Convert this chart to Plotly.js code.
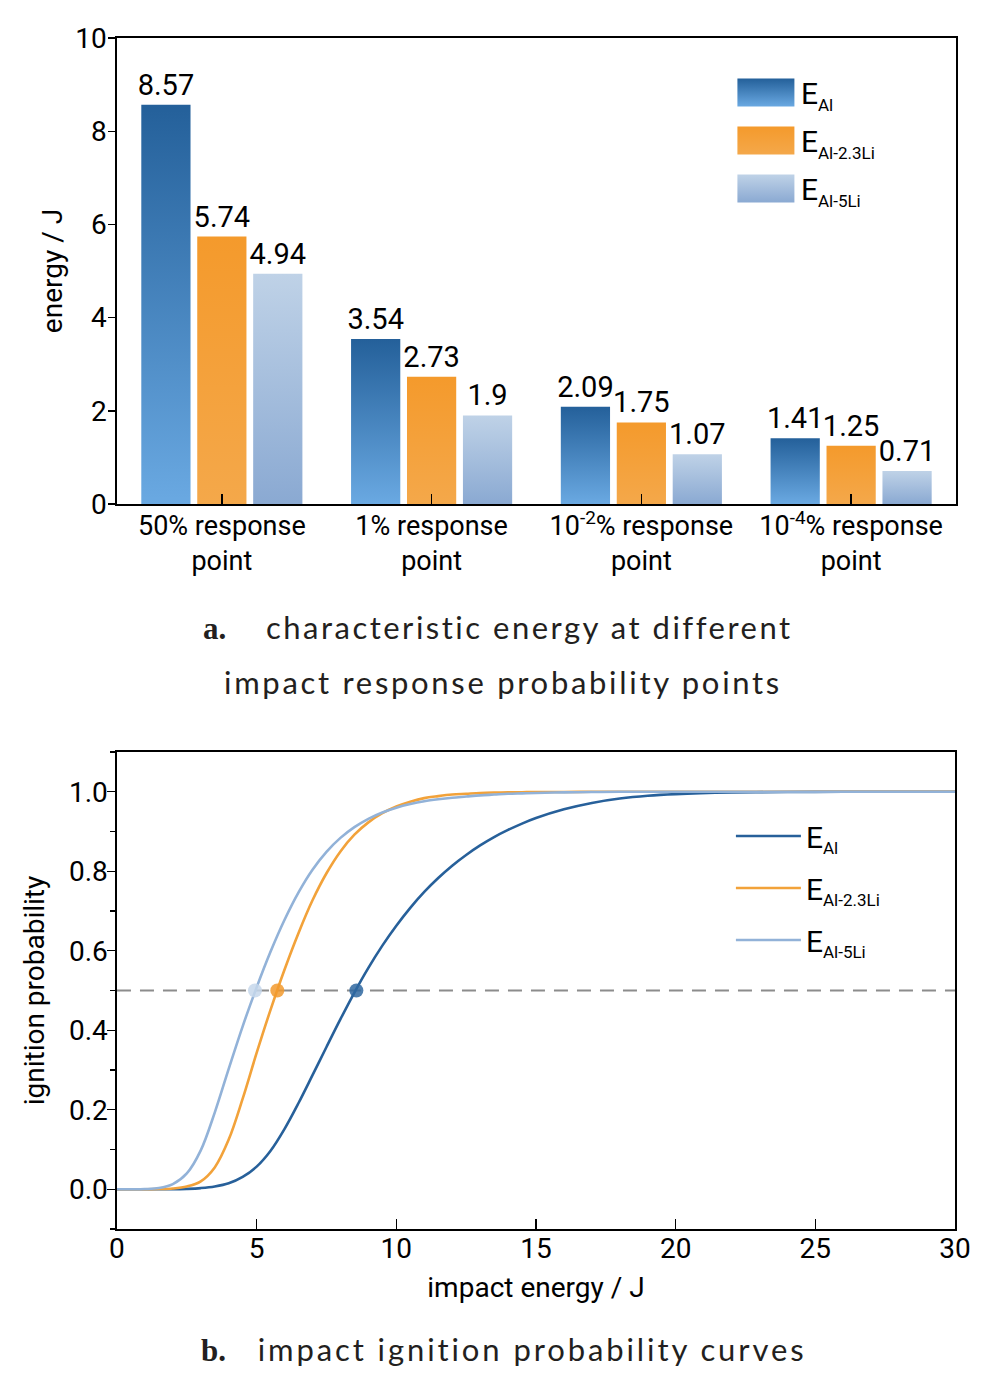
<!DOCTYPE html>
<html><head><meta charset="utf-8">
<script src="https://cdn.plot.ly/plotly-3.0.1.min.js"></script>
<style>html,body{margin:0;padding:0;background:#fff}</style>
</head><body><div id="chart" style="width:1004px;height:1387px"></div>
<script>
// ---------- data: panel a ----------
const categories = ['50% response<br>point', '1% response<br>point', '10<sup>-2</sup>% response<br>point', '10<sup>-4</sup>% response<br>point'];
const energyAl = [8.57, 3.54, 2.09, 1.41];
const energyAl23Li = [5.74, 2.73, 1.75, 1.25];
const energyAl5Li = [4.94, 1.9, 1.07, 0.71];
const seriesSubs = ['Al', 'Al-2.3Li', 'Al-5Li'];

// ---------- data: panel b ----------
const impactEnergy = [0, 0.5, 1, 1.5, 2, 2.5, 3, 3.5, 4, 4.5, 5, 5.5, 6, 6.5, 7, 7.5, 8, 8.5, 9, 9.5, 10, 10.5, 11, 11.5, 12, 12.5, 13, 13.5, 14, 14.5, 15, 16, 17, 18, 19, 20, 22, 24, 26, 28, 30];
const probAl = [0, 0, 0, 0, 0, 0.001, 0.003, 0.007, 0.015, 0.031, 0.057, 0.097, 0.152, 0.217, 0.287, 0.358, 0.428, 0.495, 0.557, 0.613, 0.663, 0.708, 0.748, 0.783, 0.814, 0.841, 0.865, 0.886, 0.904, 0.92, 0.934, 0.956, 0.972, 0.983, 0.99, 0.994, 0.998, 0.9995, 1, 1, 1];
const probAl23Li = [0, 0, 0, 0.0005, 0.002, 0.007, 0.02, 0.055, 0.125, 0.228, 0.343, 0.452, 0.553, 0.645, 0.727, 0.795, 0.85, 0.892, 0.923, 0.946, 0.963, 0.975, 0.984, 0.989, 0.993, 0.995, 0.997, 0.998, 0.9985, 0.999, 0.9993, 0.9996, 1, 1, 1, 1, 1, 1, 1, 1, 1];
const probAl5Li = [0, 0, 0.0005, 0.003, 0.013, 0.04, 0.098, 0.193, 0.303, 0.41, 0.508, 0.598, 0.678, 0.747, 0.804, 0.849, 0.884, 0.911, 0.932, 0.948, 0.96, 0.969, 0.976, 0.981, 0.985, 0.988, 0.991, 0.993, 0.995, 0.996, 0.997, 0.9985, 0.9993, 1, 1, 1, 1, 1, 1, 1, 1];
const medianEnergy = [energyAl[0], energyAl23Li[0], energyAl5Li[0]];
const halfProb = 0.5;
const energyRange = [0, 30];

// ---------- styles ----------
const FONT = 'Roboto, "Liberation Sans", sans-serif';
const CAPFONT = 'Lato, "Open Sans", sans-serif';
const lineColors = ['#27609a', '#f2a23a', '#92b2d8'];
const barColors = ['#4a86c4', '#f4a13a', '#a6c0de'];
const markerColors = ['#2f67a0', '#f29a2e', '#c6d7eb'];
const gradStops = [
  ['#24609a', '#6aa9e2'],
  ['#f49a2c', '#f4a84a'],
  ['#bfd2e7', '#8aa9d2']
];
const seriesNames = seriesSubs.map(s => 'E<sub><span style="font-size:17px">' + s + '</span></sub>');

const barSeries = [energyAl, energyAl23Li, energyAl5Li];
const probSeries = [probAl, probAl23Li, probAl5Li];

const data = [];
barSeries.forEach((vals, i) => {
  data.push({
    type: 'bar', x: categories, y: vals, xaxis: 'x', yaxis: 'y',
    name: seriesNames[i], legend: 'legend', legendgroup: 'bar' + i,
    marker: { color: barColors[i], line: { width: 0 } },
    text: vals.map(v => String(v)), textposition: 'outside',
    textfont: { family: FONT, size: 29, color: '#000' },
    constraintext: 'none', cliponaxis: false, hoverinfo: 'skip'
  });
});
data.push({
  type: 'scatter', mode: 'lines', x: energyRange, y: [halfProb, halfProb],
  xaxis: 'x2', yaxis: 'y2', showlegend: false,
  line: { color: '#8c8c8c', width: 2, dash: '14px,9px' }, hoverinfo: 'skip'
});
probSeries.forEach((vals, i) => {
  data.push({
    type: 'scatter', mode: 'lines', x: impactEnergy, y: vals,
    xaxis: 'x2', yaxis: 'y2', name: seriesNames[i], legend: 'legend2', legendgroup: 'line' + i,
    line: { color: lineColors[i], width: 2.6, shape: 'spline', smoothing: 1 }, hoverinfo: 'skip'
  });
});
medianEnergy.forEach((e, i) => {
  data.push({
    type: 'scatter', mode: 'markers', x: [e], y: [halfProb],
    xaxis: 'x2', yaxis: 'y2', showlegend: false,
    marker: { color: markerColors[i], size: 14, opacity: 0.85 }, hoverinfo: 'skip'
  });
});

const axisCommon = {
  showline: true, mirror: true, linecolor: '#000', linewidth: 1.6,
  showgrid: false, zeroline: false, tickcolor: '#000', tickwidth: 1.4,
  tickfont: { family: FONT, size: 28, color: '#000' }, automargin: false
};

const layout = {
  width: 1004, height: 1387,
  margin: { l: 0, r: 0, t: 0, b: 0 },
  paper_bgcolor: '#ffffff', plot_bgcolor: '#ffffff',
  font: { family: FONT, size: 28, color: '#000' },
  barmode: 'group', bargap: 0.2, bargroupgap: 0.12,
  showlegend: true,
  xaxis: Object.assign({}, axisCommon, {
    domain: [0.1165, 0.9522], anchor: 'y', type: 'category', tickangle: 0,
    ticks: 'inside', ticklen: 10, ticklabelstandoff: -3,
    tickfont: { family: FONT, size: 27, color: '#000' }
  }),
  yaxis: Object.assign({}, axisCommon, {
    domain: [0.6366, 0.9726], anchor: 'x', range: [0, 10], dtick: 2,
    ticks: 'outside', ticklen: 7, ticklabelstandoff: -4,
    title: { text: 'energy / J', font: { family: FONT, size: 28, color: '#000' }, standoff: 4 }
  }),
  xaxis2: Object.assign({}, axisCommon, {
    domain: [0.1165, 0.9512], anchor: 'y2', range: energyRange, dtick: 5,
    ticks: 'inside', ticklen: 10, ticklabelstandoff: -6,
    title: { text: 'impact energy / J', font: { family: FONT, size: 28, color: '#000' }, standoff: 13 }
  }),
  yaxis2: Object.assign({}, axisCommon, {
    domain: [0.1139, 0.4578], anchor: 'x2', range: [-0.1, 1.1], tick0: 0, dtick: 0.2,
    tickformat: '.1f', ticks: 'outside', ticklen: 8, ticklabelstandoff: -6,
    minor: { dtick: 0.1, tick0: 0, ticks: 'outside', ticklen: 5, tickcolor: '#000', tickwidth: 1.2 },
    title: { text: 'ignition probability', font: { family: FONT, size: 28, color: '#000' }, standoff: 16 }
  }),
  legend: {
    x: 0.728, y: 0.952, xanchor: 'left', yanchor: 'top',
    bgcolor: 'rgba(0,0,0,0)', borderwidth: 0, itemwidth: 60, tracegroupgap: 6,
    font: { family: FONT, size: 30, color: '#000' }
  },
  legend2: {
    x: 0.728, y: 0.416, xanchor: 'left', yanchor: 'top',
    bgcolor: 'rgba(0,0,0,0)', borderwidth: 0, itemwidth: 65, tracegroupgap: 10,
    font: { family: FONT, size: 30, color: '#000' }
  },
  annotations: [
    {
      xref: 'paper', yref: 'paper', x: 0.496, y: 0.5479, xanchor: 'center', yanchor: 'middle', showarrow: false,
      text: '<span style="font-family:Liberation Serif;font-weight:bold">a.</span>&nbsp;&nbsp;&nbsp;&nbsp;&nbsp;<span style="letter-spacing:2.5px">characteristic energy at different</span>',
      font: { family: CAPFONT, size: 31, color: '#231f20' }
    },
    {
      xref: 'paper', yref: 'paper', x: 0.501, y: 0.5083, xanchor: 'center', yanchor: 'middle', showarrow: false,
      text: '<span style="letter-spacing:2.7px">impact response probability points</span>',
      font: { family: CAPFONT, size: 31, color: '#231f20' }
    },
    {
      xref: 'paper', yref: 'paper', x: 0.502, y: 0.0274, xanchor: 'center', yanchor: 'middle', showarrow: false,
      text: '<span style="font-family:Liberation Serif;font-weight:bold">b.</span>&nbsp;&nbsp;&nbsp;&nbsp;<span style="letter-spacing:2.9px">impact ignition probability curves</span>',
      font: { family: CAPFONT, size: 31, color: '#231f20' }
    }
  ]
};

const gd = document.getElementById('chart');
Plotly.newPlot(gd, data, layout, { staticPlot: true }).then(() => {
  const NS = 'http://www.w3.org/2000/svg';
  const svg = gd.querySelector('svg.main-svg');
  let defs = svg.querySelector('defs');
  if (!defs) { defs = document.createElementNS(NS, 'defs'); svg.insertBefore(defs, svg.firstChild); }
  gradStops.forEach((st, i) => {
    const lg = document.createElementNS(NS, 'linearGradient');
    lg.setAttribute('id', 'barGrad' + i);
    lg.setAttribute('x1', '0'); lg.setAttribute('y1', '0');
    lg.setAttribute('x2', '0'); lg.setAttribute('y2', '1');
    [[0, st[0]], [1, st[1]]].forEach(([o, c]) => {
      const s = document.createElementNS(NS, 'stop');
      s.setAttribute('offset', o); s.setAttribute('stop-color', c);
      lg.appendChild(s);
    });
    defs.appendChild(lg);
  });
  gd.querySelectorAll('.barlayer .trace.bars').forEach((t, i) => {
    t.querySelectorAll('.point path').forEach(p => { p.style.fill = 'url(#barGrad' + i + ')'; });
  });
  gd.querySelectorAll('g.traces').forEach(g => {
    const d = g.__data__;
    const tr = d && d[0] && d[0].trace;
    if (!tr || tr.type !== 'bar') return;
    g.querySelectorAll('.legendpoints path').forEach(p => {
      p.setAttribute('d', 'M28.5,14H-28.5V-14H28.5Z');
      p.style.fill = 'url(#barGrad' + tr.index + ')';
      p.style.stroke = 'none';
    });
  });
});
</script>
</body></html>
